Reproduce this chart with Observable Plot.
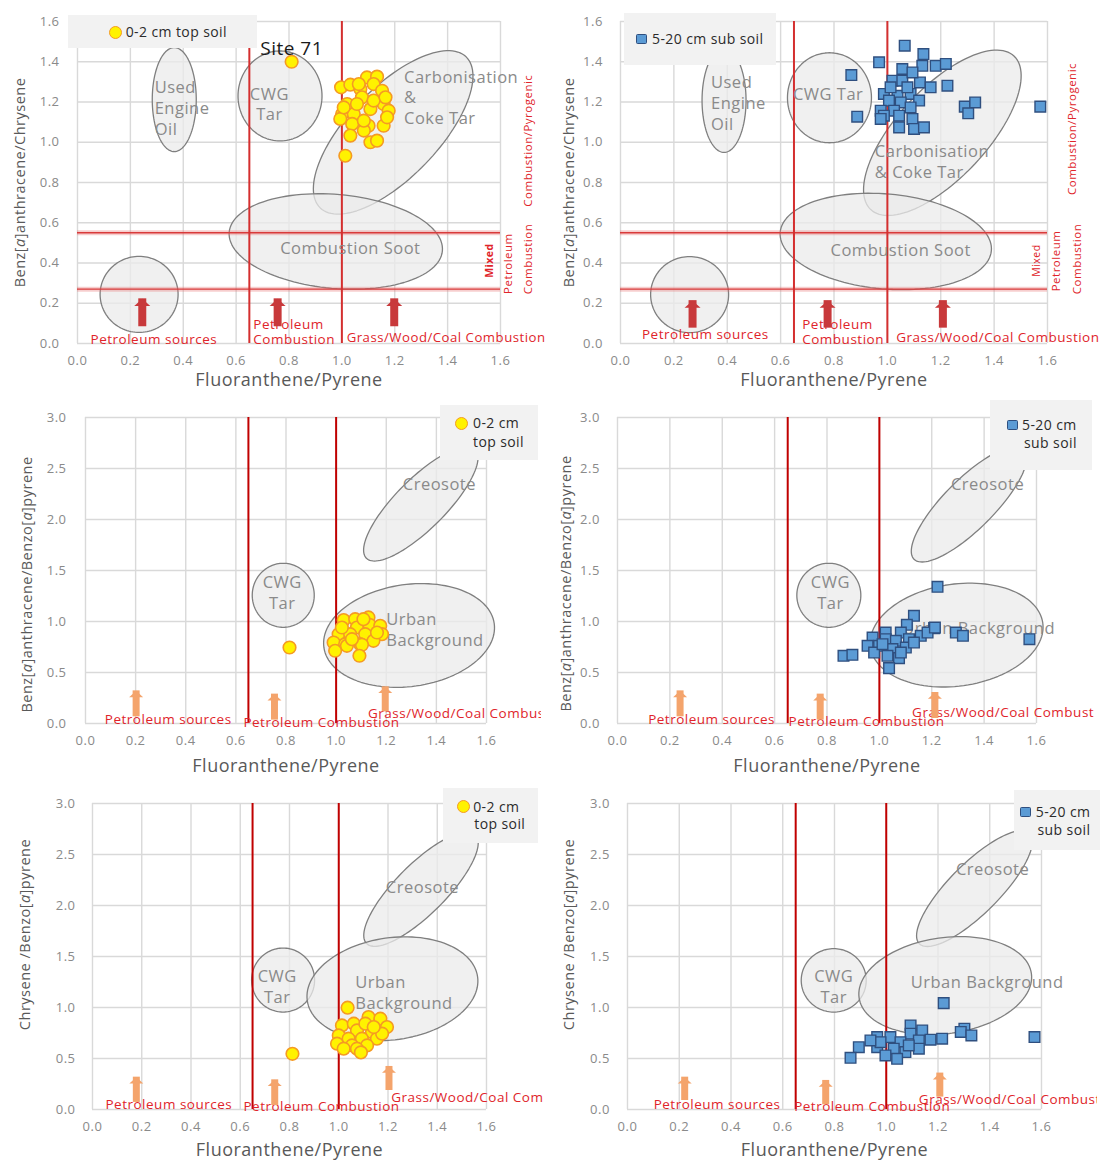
<!DOCTYPE html>
<html><head><meta charset="utf-8">
<script src="https://cdn.jsdelivr.net/npm/d3@7"></script>
<script src="https://cdn.jsdelivr.net/npm/@observablehq/plot@0.6"></script>
<style>
body{margin:0;background:#fff;}
#root{position:relative;width:1100px;height:1162px;overflow:hidden;font-family:"Open Sans",sans-serif;background:#fff;}
.panel{position:absolute;overflow:hidden;}
.panel svg text{letter-spacing:0.5px;}
.leg{position:absolute;background:#f2f2f2;}
.mk{position:absolute;box-sizing:border-box;}
.mk.c{width:13px;height:13px;border-radius:50%;background:#fff200;border:1.6px solid #f59a23;}
.mk.s{width:11px;height:10px;border-radius:1.5px;background:#5b9bd5;border:1.4px solid #2f4f7f;}
.lt{position:absolute;font-size:14px;letter-spacing:0.4px;color:#2b2b2b;white-space:nowrap;line-height:1;transform:translateY(-50%);}
</style></head><body><div id="root"></div>
<script>
// ---------------- data ----------------
const xTicks = [0,0.2,0.4,0.6,0.8,1.0,1.2,1.4,1.6];
const yTicksA = [0,0.2,0.4,0.6,0.8,1.0,1.2,1.4,1.6];
const yTicksB = [0,0.5,1.0,1.5,2.0,2.5,3.0];

// [Fluoranthene/Pyrene, ratio]
const topBaAChr = [[0.81,1.40],[0.997,1.273],[1.032,1.286],[1.095,1.322],[1.133,1.326],[1.120,1.289],[1.070,1.265],[1.152,1.256],[1.076,1.223],[1.020,1.190],[1.158,1.190],[1.108,1.165],[1.177,1.157],[1.001,1.140],[1.045,1.140],[0.994,1.116],[1.039,1.091],[1.101,1.082],[1.158,1.082],[1.083,1.058],[1.032,1.033],[1.108,1.000],[1.133,1.008],[1.013,0.933],[1.057,1.190],[1.171,1.124],[1.064,1.289],[1.007,1.173],[1.120,1.207],[1.083,1.107],[1.165,1.223]];
const subBaAChr = [[1.065,1.480],[0.969,1.397],[0.865,1.334],[1.135,1.438],[1.131,1.380],[1.181,1.380],[1.219,1.389],[1.056,1.364],[1.019,1.306],[1.056,1.306],[1.122,1.297],[1.094,1.347],[1.225,1.281],[1.162,1.273],[0.987,1.240],[1.038,1.231],[1.087,1.240],[1.006,1.207],[1.050,1.198],[1.119,1.207],[0.975,1.157],[1.025,1.157],[1.087,1.173],[0.887,1.127],[0.987,1.132],[1.044,1.132],[1.094,1.116],[0.975,1.116],[1.044,1.074],[1.100,1.066],[1.137,1.074],[1.012,1.273],[1.075,1.273],[1.290,1.177],[1.329,1.198],[1.303,1.144],[1.573,1.177]];
const topBaABaP = [[0.814,0.745],[1.030,1.014],[1.076,1.023],[1.129,1.040],[1.133,0.968],[1.176,0.958],[1.083,0.941],[1.010,0.876],[1.056,0.876],[1.116,0.876],[1.183,0.876],[0.990,0.794],[1.036,0.778],[1.096,0.778],[1.149,0.811],[1.043,0.762],[1.103,0.772],[1.093,0.664],[0.996,0.713],[1.023,0.941],[1.109,1.023],[1.163,0.892],[1.063,0.827]];
const subBaABaP = [[1.222,1.340],[1.132,1.056],[1.105,0.968],[1.209,0.935],[1.082,0.892],[1.024,0.892],[0.974,0.843],[1.024,0.827],[1.063,0.811],[1.113,0.827],[1.158,0.860],[1.184,0.892],[0.955,0.762],[0.999,0.762],[1.050,0.729],[1.101,0.745],[0.980,0.696],[1.031,0.664],[1.075,0.641],[1.037,0.543],[0.863,0.664],[0.897,0.673],[1.132,0.794],[1.012,0.778],[1.082,0.696],[1.212,0.941],[1.292,0.892],[1.319,0.860],[1.573,0.827]];
const topChrBaP = [[0.812,0.546],[1.036,0.998],[1.013,0.824],[1.061,0.841],[1.121,0.906],[1.169,0.890],[1.196,0.808],[1.135,0.759],[1.074,0.775],[1.000,0.726],[1.040,0.694],[1.094,0.694],[1.155,0.694],[0.993,0.645],[1.054,0.628],[1.115,0.628],[1.176,0.743],[1.108,0.841],[1.020,0.596],[1.074,0.596],[1.142,0.808],[1.090,0.560]];
const subChrBaP = [[1.222,1.043],[1.094,0.824],[1.139,0.775],[1.094,0.743],[0.965,0.710],[1.016,0.710],[1.055,0.660],[1.126,0.677],[1.171,0.684],[1.216,0.694],[0.965,0.611],[1.029,0.596],[1.074,0.563],[1.126,0.596],[0.894,0.611],[0.862,0.507],[0.997,0.530],[1.042,0.497],[0.978,0.660],[1.087,0.628],[0.939,0.677],[1.302,0.792],[1.288,0.760],[1.329,0.726],[1.573,0.710]];

// diagnostic thresholds
const fpLines = [0.65, 1.0];
const baaChrLines = [0.55, 0.27];

// source regions: centre (data), half axes (px), tilt (deg)
const regions1 = [
  {cx:0.366, cy:1.212, a:22, b:52, ang:0},
  {cx:0.766, cy:1.230, a:42, b:45, ang:0},
  {cx:1.194, cy:1.049, a:105, b:45, ang:46},
  {cx:0.977, cy:0.507, a:107, b:47, ang:-5},
  {cx:0.233, cy:0.244, a:39, b:38, ang:0}];
const regions2 = [
  {cx:0.388, cy:1.208, a:22, b:52, ang:0},
  {cx:0.783, cy:1.221, a:42, b:45, ang:0},
  {cx:1.206, cy:1.047, a:105, b:45, ang:47},
  {cx:0.994, cy:0.507, a:106, b:47.5, ang:-5},
  {cx:0.259, cy:0.243, a:39, b:38, ang:0}];
const regions3 = [
  {cx:1.338, cy:2.154, a:77, b:25, ang:45},
  {cx:0.789, cy:1.257, a:31, b:32, ang:0},
  {cx:1.291, cy:0.863, a:86, b:51, ang:8}];
const regions4 = [
  {cx:1.343, cy:2.151, a:78, b:25, ang:45},
  {cx:0.807, cy:1.257, a:32, b:32, ang:0},
  {cx:1.295, cy:0.867, a:87, b:51, ang:8}];
const regions5 = [
  {cx:1.334, cy:2.161, a:77, b:25, ang:45},
  {cx:0.774, cy:1.269, a:31.5, b:32, ang:0},
  {cx:1.218, cy:1.184, a:86, b:51, ang:8}];
const regions6 = [
  {cx:1.341, cy:2.166, a:78, b:25, ang:45},
  {cx:0.797, cy:1.266, a:32.5, b:31.7, ang:0},
  {cx:1.228, cy:1.214, a:87, b:48, ang:8}];

// gray region labels
const names1 = [
  {x:0.292, y:1.173, t:"Used\nEngine\nOil", anchor:"start"},
  {x:0.726, y:1.194, t:"CWG\nTar"},
  {x:1.235, y:1.226, t:"Carbonisation\n&\nCoke Tar", anchor:"start"},
  {x:1.032, y:0.478, t:"Combustion Soot"}];
const names2 = [
  {x:0.339, y:1.198, t:"Used\nEngine\nOil", anchor:"start"},
  {x:0.778, y:1.243, t:"CWG Tar"},
  {x:0.953, y:0.907, t:"Carbonisation\n& Coke Tar", anchor:"start"},
  {x:1.05, y:0.47, t:"Combustion Soot"}];
const names3 = [
  {x:1.412, y:2.353, t:"Creosote"},
  {x:0.785, y:1.289, t:"CWG\nTar"},
  {x:1.20, y:0.93, t:"Urban\nBackground", anchor:"start"}];
const names4 = [
  {x:1.413, y:2.353, t:"Creosote"},
  {x:0.813, y:1.289, t:"CWG\nTar"},
  {x:1.379, y:0.941, t:"Urban Background"}];
const names5 = [
  {x:1.34, y:2.188, t:"Creosote"},
  {x:0.75, y:1.212, t:"CWG\nTar"},
  {x:1.067, y:1.156, t:"Urban\nBackground", anchor:"start"}];
const names6 = [
  {x:1.411, y:2.362, t:"Creosote"},
  {x:0.797, y:1.213, t:"CWG\nTar"},
  {x:1.39, y:1.256, t:"Urban Background"}];

// red source labels
const src1 = [
  {x:0.289, y:0.023, t:"Petroleum sources", size:13.5},
  {x:0.665, y:0.06, t:"Petroleum\nCombustion", anchor:"start", size:13.5},
  {x:1.018, y:0.031, t:"Grass/Wood/Coal Combustion", anchor:"start", size:13.2},
  {x:1.705, y:1.008, t:"Combustion/Pyrogenic", rot:-90, size:11.5},
  {x:1.559, y:0.412, t:"Mixed", rot:-90, size:10.5, bold:true},
  {x:1.629, y:0.397, t:"Petroleum", rot:-90, size:11.5},
  {x:1.703, y:0.42, t:"Combustion", rot:-90, size:11.5}];
const src2 = [
  {x:0.318, y:0.045, t:"Petroleum sources", size:13.5},
  {x:0.681, y:0.06, t:"Petroleum\nCombustion", anchor:"start", size:13.5},
  {x:1.033, y:0.031, t:"Grass/Wood/Coal Combustion", anchor:"start", size:13.5},
  {x:1.691, y:1.066, t:"Combustion/Pyrogenic", rot:-90, size:11.5},
  {x:1.559, y:0.412, t:"Mixed", rot:-90, size:10.5},
  {x:1.632, y:0.41, t:"Petroleum", rot:-90, size:11.5},
  {x:1.711, y:0.42, t:"Combustion", rot:-90, size:11.5}];
const src3 = [
  {x:0.33, y:0.043, t:"Petroleum sources"},
  {x:0.63, y:0.017, t:"Petroleum Combustion", anchor:"start"},
  {x:1.127, y:0.098, t:"Grass/Wood/Coal Combustion", anchor:"start"}];
const src4 = [
  {x:0.359, y:0.043, t:"Petroleum sources"},
  {x:0.653, y:0.02, t:"Petroleum Combustion", anchor:"start"},
  {x:1.125, y:0.115, t:"Grass/Wood/Coal Combustion", anchor:"start"}];
const src5 = [
  {x:0.31, y:0.049, t:"Petroleum sources"},
  {x:0.613, y:0.029, t:"Petroleum Combustion", anchor:"start"},
  {x:1.213, y:0.121, t:"Grass/Wood/Coal Combustion", anchor:"start"}];
const src6 = [
  {x:0.346, y:0.049, t:"Petroleum sources"},
  {x:0.644, y:0.029, t:"Petroleum Combustion", anchor:"start"},
  {x:1.126, y:0.105, t:"Grass/Wood/Coal Combustion", anchor:"start"}];

// arrows: x, base, tip
const arrows1 = [[0.245,0.118,0.222],[0.757,0.118,0.222],[1.198,0.118,0.222]];
const arrows2 = [[0.27,0.111,0.213],[0.776,0.111,0.213],[1.208,0.111,0.213]];
const arrows3 = [[0.202,0.124,0.32],[0.754,0.092,0.288],[1.196,0.173,0.36]];
const arrows4 = [[0.239,0.124,0.32],[0.774,0.092,0.288],[1.212,0.108,0.304]];
const arrows5 = [[0.178,0.128,0.317],[0.74,0.098,0.291],[1.204,0.245,0.422]];
const arrows6 = [[0.221,0.147,0.317],[0.766,0.105,0.285],[1.207,0.18,0.357]];

const xLabel = "Fluoranthene/Pyrene";
const yLabel1 = "Benz[a]anthracene/Chrysene";
const yLabel2 = "Benz[a]anthracene/Benzo[a]pyrene";
const yLabel3 = "Chrysene /Benzo[a]pyrene";

// ---------------- drawing ----------------
const FONT = "Open Sans";
const headSym = {draw(ctx, size){ const r = Math.sqrt(size/Math.PI); ctx.moveTo(0,0); ctx.lineTo(r,0.9*r); ctx.lineTo(-r,0.9*r); ctx.closePath(); }};

function ellipsePts(e, kx, ky, id){
  const pts=[]; const th=e.ang*Math.PI/180;
  for(let i=0;i<=120;i++){const t=i/120*2*Math.PI; const u=e.a*Math.cos(t), v=e.b*Math.sin(t);
    pts.push({id, x:e.cx+(u*Math.cos(th)-v*Math.sin(th))/kx, y:e.cy+(u*Math.sin(th)+v*Math.cos(th))/ky});}
  return pts;
}

function italicA(svg){
  svg.querySelectorAll("text").forEach(t=>{
    if(t.children.length===0 && t.textContent.includes("[a]")){
      const parts=t.textContent.split("[a]"); t.textContent="";
      parts.forEach((p,i)=>{
        t.appendChild(document.createTextNode(p+(i<parts.length-1?"[":"")));
        if(i<parts.length-1){const ts=document.createElementNS("http://www.w3.org/2000/svg","tspan");ts.setAttribute("font-style","italic");ts.textContent="a";t.appendChild(ts);t.appendChild(document.createTextNode("]"));}
      });
    }
  });
}

const root = document.getElementById("root");

function panel(p){
  const kx=(p.w-p.ml-p.mr)/1.6, ky=(p.h-p.mt-p.mb)/p.yMax;
  const ell=p.regions.flatMap((e,i)=>ellipsePts(e,kx,ky,i));
  const yT = p.yMax>2 ? yTicksB : yTicksA;
  const arrowColor = p.top? "#f4a46c" : "#c8393b";
  const aw = p.top? 7 : 8, ah = p.top? 6.5 : 7.5;
  const marks=[
    Plot.gridX(xTicks,{stroke:"#d9d9d9",strokeOpacity:1,strokeWidth:1.4}),
    Plot.gridY(yT,{stroke:"#d9d9d9",strokeOpacity:1,strokeWidth:1.4}),
    Plot.line(ell,{x:"x",y:"y",z:"id",fill:"#ebebeb",fillOpacity:0.75,stroke:"#7f7f7f",strokeWidth:1.3}),
  ];
  if(p.hlines){
    marks.push(Plot.ruleY(p.hlines,{stroke:"#e57373",strokeOpacity:0.35,strokeWidth:5}));
    marks.push(Plot.ruleY(p.hlines,{stroke:"#d93a3a",strokeWidth:1.4}));
    marks.push(Plot.ruleX(fpLines,{stroke:"#d42f2f",strokeWidth:2}));
  } else {
    marks.push(Plot.ruleX(fpLines,{stroke:"#c00000",strokeWidth:2}));
  }
  for(const n of p.names){
    marks.push(Plot.text([n],{x:"x",y:"y",text:"t",textAnchor:n.anchor||"middle",lineAnchor:"middle",lineHeight:1.25,fontSize:16.5,fill:"#8a8a8a",fontFamily:FONT}));
  }
  for(const s of p.src){
    marks.push(Plot.text([s],{x:"x",y:"y",text:"t",textAnchor:s.anchor||"middle",lineAnchor:"middle",lineHeight:1.12,fontSize:s.size||13.5,fill:"#e0242a",rotate:s.rot||0,fontWeight:s.bold?"bold":"normal",fontFamily:FONT}));
  }
  marks.push(Plot.ruleX(p.arrows,{x:d=>d[0],y1:d=>d[1],y2:d=>d[2],stroke:arrowColor,strokeWidth:aw,insetTop:ah-0.5}));
  marks.push(Plot.dot(p.arrows,{x:d=>d[0],y:d=>d[2],symbol:headSym,r:aw,fill:arrowColor,stroke:"none"}));
  if(p.site) marks.push(Plot.text([p.site],{x:"x",y:"y",text:"t",fontSize:19,fill:"#1a1a1a",fontFamily:FONT,fontWeight:500}));
  if(p.kind==="top"){
    marks.push(Plot.dot(p.data,{x:d=>d[0],y:d=>d[1],r:6.3,symbol:"circle",fill:"#fff200",stroke:"#f59a23",strokeWidth:1.6}));
  } else {
    marks.push(Plot.dot(p.data,{x:d=>d[0],y:d=>d[1],r:6,symbol:"square",fill:"#5b9bd5",stroke:"#2f4f7f",strokeWidth:1.4}));
  }
  marks.push(Plot.axisX(xTicks,{tickSize:0,tickPadding:p.xPad,tickFormat:d3.format(".1f"),fill:"#8a8a8a",fontSize:13,label:null}));
  marks.push(Plot.axisY(yT,{tickSize:0,tickPadding:p.yPad,tickFormat:d3.format(".1f"),fill:"#8a8a8a",fontSize:13,label:null}));
  marks.push(Plot.text([xLabel],{frameAnchor:"bottom",text:d=>d,dy:p.xLabDy,textAnchor:"middle",lineAnchor:"middle",fontSize:18,fill:"#595959",fontFamily:FONT}));
  marks.push(Plot.text([p.yLabel],{frameAnchor:"left",text:d=>d,dx:p.yLabDx,dy:p.yLabDy,rotate:-90,textAnchor:"middle",lineAnchor:"middle",fontSize:14.5,fill:"#595959",fontFamily:FONT}));
  const svg=Plot.plot({width:p.w,height:p.h,marginLeft:p.ml,marginRight:p.mr,marginTop:p.mt,marginBottom:p.mb,
    x:{domain:[0,1.6]},y:{domain:[0,p.yMax]},
    style:{fontFamily:FONT,fontSize:"13px",maxWidth:"none",overflow:"visible",background:"#fff"},
    marks});
  italicA(svg);
  const wrap=document.createElement("div");
  wrap.className="panel";
  Object.assign(wrap.style,{left:p.left+"px",top:p.ptop+"px",width:p.clipW+"px",height:p.h+"px"});
  wrap.appendChild(svg);
  root.appendChild(wrap);
}

function legend(box, mk, kind, lines){
  const b=document.createElement("div"); b.className="leg";
  Object.assign(b.style,{left:box[0]+"px",top:box[1]+"px",width:box[2]+"px",height:box[3]+"px"});
  root.appendChild(b);
  const m=document.createElement("div"); m.className="mk "+(kind==="top"?"c":"s");
  const mw = kind==="top"?13:11, mh = kind==="top"?13:10;
  Object.assign(m.style,{left:(mk[0]-mw/2)+"px",top:(mk[1]-mh/2)+"px"});
  root.appendChild(m);
  for(const [x,y,t] of lines){const s=document.createElement("div"); s.className="lt"; s.textContent=t; Object.assign(s.style,{left:x+"px",top:y+"px"}); root.appendChild(s);}
}

panel({left:0,ptop:0,w:550,h:390,clipW:550,ml:77,mr:50,mt:21,mb:47,yMax:1.6,xPad:12,yPad:18,xLabDy:37,yLabel:yLabel1,yLabDx:-57.5,yLabDy:0,
  regions:regions1,names:names1,src:src1,arrows:arrows1,hlines:baaChrLines,data:topBaAChr,kind:"top",site:{x:0.81,y:1.463,t:"Site 71"}});
panel({left:550,ptop:0,w:550,h:390,clipW:550,ml:70,mr:53,mt:21,mb:47,yMax:1.6,xPad:12,yPad:17.6,xLabDy:37,yLabel:yLabel1,yLabDx:-51,yLabDy:0,
  regions:regions2,names:names2,src:src2,arrows:arrows2,hlines:baaChrLines,data:subBaAChr,kind:"sub"});
panel({left:0,ptop:390,w:550,h:390,clipW:541,ml:85,mr:64,mt:27,mb:57,yMax:3,xPad:12.5,yPad:19,xLabDy:43,yLabel:yLabel2,yLabDx:-58,yLabDy:14,top:true,
  regions:regions3,names:names3,src:src3,arrows:arrows3,data:topBaABaP,kind:"top"});
panel({left:550,ptop:390,w:550,h:390,clipW:544,ml:67,mr:64,mt:27,mb:57,yMax:3,xPad:12.5,yPad:17.6,xLabDy:43,yLabel:yLabel2,yLabDx:-51,yLabDy:13,top:true,
  regions:regions4,names:names4,src:src4,arrows:arrows4,data:subBaABaP,kind:"sub"});
panel({left:0,ptop:780,w:550,h:382,clipW:543,ml:92,mr:64,mt:23,mb:53,yMax:3,xPad:12,yPad:17,xLabDy:41,yLabel:yLabel3,yLabDx:-67,yLabDy:-22,top:true,
  regions:regions5,names:names5,src:src5,arrows:arrows5,data:topChrBaP,kind:"top"});
panel({left:550,ptop:780,w:550,h:382,clipW:547,ml:77,mr:59,mt:23,mb:53,yMax:3,xPad:12,yPad:17.6,xLabDy:41,yLabel:yLabel3,yLabDx:-58,yLabDy:-22,top:true,
  regions:regions6,names:names6,src:src6,arrows:arrows6,data:subChrBaP,kind:"sub"});

legend([68,15,189,33],[115.4,32.3],"top",[[125.7,32.3,"0-2 cm top soil"]]);
legend([624,13,152,52],[641,39],"sub",[[652,39,"5-20 cm sub soil"]]);
legend([440,405,97.5,55],[461.4,423.3],"top",[[473,423.3,"0-2 cm"],[473,441.7,"top soil"]]);
legend([990,400,102,70],[1012.3,425],"sub",[[1022,425,"5-20 cm"],[1024,443.3,"sub soil"]]);
legend([443,788,94.5,55],[463.2,806.7],"top",[[473.2,806.7,"0-2 cm"],[474.3,824.3,"top soil"]]);
legend([1013.7,790,86.3,60],[1025.3,811.7],"sub",[[1035.8,811.7,"5-20 cm"],[1037.5,830,"sub soil"]]);
</script></body></html>
